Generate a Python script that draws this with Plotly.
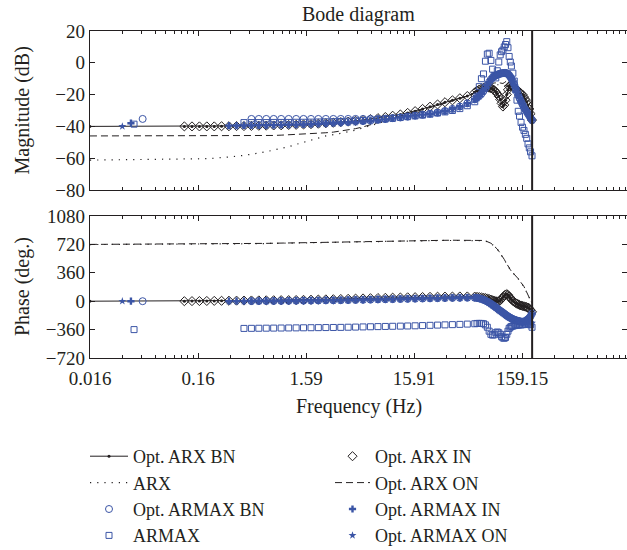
import plotly.graph_objects as go
import math

# ---------------- data ----------------
# shared frequency grid (Hz) of the identified responses
freq_hz = [0.119, 0.14, 0.164, 0.192, 0.225, 0.263, 0.308, 0.362, 0.424, 0.497,
           0.582, 0.682, 0.799, 0.937, 1.1, 1.29, 1.51, 1.77, 2.07, 2.43,
           2.85, 3.34, 3.91, 4.58, 5.37, 6.29, 7.38, 8.64, 10.1, 11.9,
           13.9, 16.3, 19.1, 22.4, 26.3, 30.8, 36.1, 42.3, 49.6, 58.1,
           61, 64, 67, 70, 73, 76, 79, 82, 85, 88,
           91, 94, 97, 100, 103, 106, 109, 112, 115, 118,
           121, 124, 127, 131, 135, 139, 143, 147, 151, 156,
           161, 166, 171, 176, 181, 186, 191, 197]
line_start_hz = 0.0159          # continuous models start at the left edge
nyquist_hz = 197.5              # vertical marker line

# Opt. ARX IN (diamonds)
arx_in_mag = [-40.0, -40.0, -40.0, -40.0, -40.0, -39.9, -39.9, -39.8, -39.8, -39.7,
              -39.6, -39.5, -39.4, -39.3, -39.1, -39.0, -38.8, -38.6, -38.3, -38.0,
              -37.7, -37.3, -37.0, -36.5, -36.0, -35.4, -34.8, -34.1, -33.3, -32.5,
              -31.5, -30.4, -29.0, -27.6, -26.2, -24.8, -23.6, -22.3, -20.9, -18.6,
              -17.5, -16.8, -16.2, -15.8, -15.5, -15.5, -15.7, -16.0, -16.5, -17.2,
              -18.2, -19.5, -21.0, -23.0, -25.5, -27.5, -26.5, -23.5, -20.0, -17.0,
              -14.8, -14.0, -14.3, -15.0, -15.8, -16.5, -17.0, -17.8, -18.5, -19.3,
              -20.0, -21.5, -23.0, -24.5, -26.5, -29.0, -32.0, -36.0]
arx_in_ph = [0, 1, 2, 3, 4, 5, 6, 7, 8, 9,
             10, 11, 12, 13, 14, 15, 17, 19, 21, 23,
             25, 28, 30, 33, 35, 38, 40, 43, 45, 47,
             49, 51, 53, 55, 57, 58, 59, 60, 60, 58,
             55, 52, 48, 44, 40, 35, 28, 20, 12, 5,
             0, -3, 0, 10, 30, 50, 70, 85, 90, 80,
             60, 40, 22, 5, -10, -22, -32, -40, -48, -55,
             -60, -65, -70, -75, -82, -92, -110, -135]

# Opt. ARX BN (solid line, starts at line_start_hz)
arx_bn_mag = [-40.0] + arx_in_mag
arx_bn_ph = [0] + arx_in_ph

# Opt. ARX ON (dashed line, starts at line_start_hz)
arx_on_mag = [-46.0,
              -46.0, -46.0, -46.0, -46.0, -46.0, -46.0, -46.0, -46.0, -46.0, -46.0,
              -45.9, -45.8, -45.7, -45.5, -45.3, -45.1, -44.9, -44.6, -44.3, -44.0,
              -43.6, -43.0, -42.3, -41.4, -40.3, -39.0, -37.7, -36.4, -35.0, -33.6,
              -32.3, -31.0, -29.6, -28.2, -26.8, -25.4, -24.0, -22.5, -21.0, -19.0,
              -18.5, -17.8, -17.0, -16.2, -15.5, -14.8, -14.0, -13.5, -13.0, -12.7,
              -12.5, -12.4, -12.5, -12.7, -13.0, -13.0, -12.5, -11.8, -11.0, -10.8,
              -10.8, -11.0, -11.5, -12.3, -13.2, -14.3, -15.5, -16.8, -18.0, -19.5,
              -21.0, -22.8, -24.5, -26.5, -28.5, -30.5, -33.0, -35.5]
arx_on_ph = [720,
             722, 723, 724, 725, 726, 727, 728, 729, 729, 730,
             731, 733, 735, 737, 739, 741, 743, 745, 747, 749,
             751, 753, 755, 757, 759, 761, 762, 763, 765, 766,
             767, 768, 769, 770, 771, 772, 773, 774, 775, 776,
             776, 775, 773, 770, 765, 758, 748, 735, 718, 700,
             680, 660, 635, 610, 585, 560, 530, 500, 470, 445,
             420, 400, 380, 362, 345, 325, 305, 285, 262, 240,
             215, 185, 150, 110, 70, 35, 10, -20]

# ARX (dotted line, starts at line_start_hz)
arx_mag = [-61.2,
           -60.8, -60.7, -60.5, -60.3, -60.0, -59.7, -59.3, -58.8, -58.2, -57.6,
           -56.8, -55.9, -55.0, -54.0, -52.8, -51.3, -49.9, -48.6, -47.2, -46.0,
           -45.2, -44.4, -43.4, -42.3, -41.0, -39.6, -38.1, -36.6, -35.1, -33.6,
           -32.2, -30.8, -29.4, -28.0, -26.6, -25.2, -23.8, -22.4, -21.0, -19.5,
           -19.0, -18.4, -17.8, -17.2, -16.6, -16.0, -15.5, -15.0, -14.6, -14.3,
           -14.0, -13.8, -13.7, -13.7, -13.8, -14.0, -14.3, -14.7, -15.2, -15.8,
           -16.5, -17.3, -18.2, -19.2, -20.3, -21.5, -22.8, -24.2, -25.6, -27.0,
           -28.5, -30.0, -31.5, -33.0, -34.5, -36.0, -37.5, -39.0]
arx_ph = [718,
          719, 720, 721, 722, 723, 724, 725, 726, 727, 728,
          729, 731, 733, 735, 737, 739, 741, 743, 745, 747,
          749, 751, 753, 755, 757, 759, 760, 761, 763, 764,
          765, 766, 767, 768, 769, 770, 771, 772, 773, 774,
          774, 773, 771, 768, 763, 756, 746, 733, 716, 698,
          678, 658, 633, 608, 583, 558, 528, 498, 468, 443,
          418, 398, 378, 360, 343, 323, 303, 283, 260, 238,
          213, 183, 148, 108, 68, 33, 8, -22]

# Opt. ARMAX IN (first point isolated, then grid from 0.308 Hz)
armax_in_first = [0.0381, -38.0, 0]
armax_in_mag = [-39.5, -39.5, -39.4, -39.4, -39.3, -39.3, -39.2, -39.1, -39.0, -38.9,
                -38.8, -38.6, -38.4, -38.2, -38.0, -37.8, -37.5, -37.2, -36.9, -36.5,
                -36.1, -35.6, -35.0, -34.4, -33.8, -33.2, -32.6, -32.0, -31.3, -30.3,
                -29.0, -27.5, -25.5, -23.0,
                -22.0, -20.8, -19.5, -17.8, -16.0, -14.0, -12.2, -10.5, -9.3, -8.5,
                -7.9, -7.5, -7.1, -6.8, -6.6, -6.5, -6.4, -6.4, -6.6, -7.0,
                -7.8, -8.8, -10.0, -11.8, -13.8, -16.0, -18.2, -20.3, -22.3, -24.3,
                -26.2, -28.0, -29.5, -30.8, -32.0, -33.3, -34.7, -36.0]
armax_in_ph = [0, 1, 1, 2, 2, 3, 3, 4, 5, 6,
               7, 8, 9, 10, 11, 12, 14, 16, 18, 20,
               22, 24, 26, 28, 30, 32, 34, 36, 38, 40,
               42, 43, 44, 44,
               42, 35, 28, 18, 8, -5, -18, -32, -48, -62,
               -78, -92, -108, -120, -133, -145, -158, -170, -182, -192,
               -202, -210, -218, -226, -234, -240, -246, -250, -255, -258,
               -260, -258, -252, -240, -228, -212, -190, -155]

# Opt. ARMAX ON (stars)
armax_on_first = [0.0317, -40.0, 0]
armax_on_mag = [-39.8, -39.7, -39.7, -39.6, -39.6, -39.5, -39.4, -39.3, -39.2, -39.1,
                -39.0, -38.8, -38.6, -38.4, -38.2, -38.0, -37.7, -37.4, -37.1, -36.7,
                -36.3, -35.8, -35.2, -34.6, -34.0, -33.4, -32.8, -32.2, -31.5, -30.5,
                -29.2, -27.7, -25.7, -23.3,
                -22.3, -21.1, -19.8, -18.1, -16.3, -14.3, -12.5, -10.8, -9.6, -8.8,
                -8.2, -7.8, -7.4, -7.1, -6.9, -6.8, -6.7, -6.7, -6.9, -7.3,
                -8.1, -9.1, -10.3, -12.1, -14.1, -16.3, -18.5, -20.6, -22.6, -24.6,
                -26.5, -28.3, -29.8, -31.1, -32.3, -33.6, -35.0, -36.3]
armax_on_ph = [0, 0, 1, 1, 2, 2, 3, 3, 4, 5,
               6, 7, 8, 9, 10, 11, 13, 15, 17, 19,
               21, 23, 25, 27, 29, 31, 33, 35, 37, 39,
               41, 42, 43, 43,
               40, 33, 25, 15, 4, -9, -22, -37, -53, -68,
               -84, -98, -113, -126, -139, -151, -163, -175, -187, -197,
               -207, -215, -223, -231, -238, -244, -249, -253, -257, -260,
               -262, -264, -266, -268, -270, -272, -275, -278]

# Opt. ARMAX BN (circles)
armax_bn_first = [0.0489, -35.3, 0]
armax_bn_mag = [-35.3, -35.3, -35.3, -35.3, -35.3, -35.3, -35.3, -35.3, -35.3, -35.3,
                -35.3, -35.3, -35.3, -35.3, -35.3, -35.3, -35.3, -35.3, -35.1, -34.8,
                -34.4, -33.8, -33.2, -32.6, -32.0, -31.3, -30.3, -29.0, -27.5, -25.5,
                -23.0,
                -22.0, -20.8, -19.5, -17.8, -16.0, -14.0, -12.2, -10.5, -9.3, -8.5,
                -7.9, -7.5, -7.1, -6.8, -6.6, -6.5, -6.4, -6.4, -6.6, -7.0,
                -7.8, -8.8, -10.0, -11.8, -13.8, -16.0, -18.2, -20.3, -22.3, -24.3,
                -26.2, -28.0, -29.5, -30.8, -32.0, -33.3, -34.7, -36.0]
armax_bn_ph = [2, 2, 3, 3, 4, 5, 6, 7, 8, 9,
               10, 11, 12, 14, 16, 18, 20, 22, 24, 26,
               28, 30, 32, 34, 36, 38, 40, 42, 43, 44,
               44,
               42, 35, 28, 18, 8, -5, -18, -32, -48, -62,
               -78, -92, -108, -120, -133, -145, -158, -170, -182, -192,
               -202, -210, -218, -226, -234, -240, -246, -250, -255, -258,
               -260, -258, -252, -240, -228, -212, -190, -155]

# ARMAX (squares)
armax_first = [0.0407, -38.6, -360]
armax_mag = [-37.6, -37.6, -37.6, -37.6, -37.5, -37.5, -37.5, -37.4, -37.4, -37.3,
             -37.2, -37.1, -37.0, -36.9, -36.7, -36.5, -36.3, -36.0, -35.7, -35.3,
             -34.9, -34.4, -33.9, -33.4, -32.9, -32.3, -31.6, -30.9, -30.0, -28.8,
             -27.0, -24.5,
             -21.0, -15.0, -10.0, -7.0, 1.0, 5.5, 6.0, 1.5, -4.0, -8.0,
             -9.5, -5.0, 0.5, 5.0, 7.0, 8.0, 10.0, 11.5, 13.3, 9.5,
             4.0, 0.5, -2.0, -6.5, -11.5, -17.0, -23.5, -30.5, -33.5, -37.5,
             -40.5, -42.5, -45.0, -47.5, -51.0, -53.5, -56.0, -58.5]
armax_ph = [-345, -344, -343, -342, -341, -340, -339, -338, -337, -336,
            -335, -334, -333, -332, -330, -328, -326, -324, -322, -320,
            -318, -316, -314, -312, -309, -306, -303, -300, -297, -294,
            -290, -286,
            -282, -281, -282, -285, -300, -330, -380, -420, -430, -425,
            -400, -390, -400, -420, -450, -465, -470, -460, -420, -380,
            -345, -330, -320, -315, -310, -305, -303, -302, -300, -300,
            -298, -296, -295, -292, -290, -290, -300, -330]

mag_ticks = [-80, -60, -40, -20, 0, 20]
phase_ticks = [-720, -360, 0, 360, 720, 1080]
freq_tick_vals = [0.015915, 0.15915, 1.5915, 15.915, 159.15]
freq_tick_text = ["0.016", "0.16", "1.59", "15.91", "159.15"]

# ---------------- style ----------------
BLACK = "#231f20"
BLUE = "#3b55a6"
FONT = "Liberation Serif"
W, H = 627, 550

fig = go.Figure()


def tail(values):
    return freq_hz[len(freq_hz) - len(values):]


def add(name, legend, rank, x, mag, ph, **kw):
    fig.add_trace(go.Scatter(x=x, y=mag, name=name, legend=legend, legendrank=rank,
                             legendgroup=name, showlegend=True,
                             xaxis="x", yaxis="y", **kw))
    fig.add_trace(go.Scatter(x=x, y=ph, name=name, legend=legend, legendgroup=name,
                             showlegend=False, xaxis="x2", yaxis="y2", **kw))


line_freq = [line_start_hz] + freq_hz

add("ARX", "legend", 2, line_freq, arx_mag, arx_ph, mode="lines",
    line=dict(color=BLACK, width=1.2, dash="1.2px,6px"))
add("Opt. ARX ON", "legend2", 2, line_freq, arx_on_mag, arx_on_ph, mode="lines",
    line=dict(color=BLACK, width=1, dash="7px,4px"))
add("Opt. ARX BN", "legend", 1, line_freq, arx_bn_mag, arx_bn_ph, mode="lines+markers",
    line=dict(color=BLACK, width=1), marker=dict(color=BLACK, size=3))
add("Opt. ARX IN", "legend2", 1, tail(arx_in_mag), arx_in_mag, arx_in_ph, mode="markers",
    marker=dict(symbol="diamond-open", color=BLACK, size=7, line=dict(width=1, color=BLACK)))
add("Opt. ARMAX BN", "legend", 3,
    [armax_bn_first[0]] + tail(armax_bn_mag), [armax_bn_first[1]] + armax_bn_mag,
    [armax_bn_first[2]] + armax_bn_ph, mode="markers",
    marker=dict(symbol="circle-open", color=BLUE, size=7, line=dict(width=1, color=BLUE)))
add("ARMAX", "legend", 4,
    [armax_first[0]] + tail(armax_mag), [armax_first[1]] + armax_mag,
    [armax_first[2]] + armax_ph, mode="markers",
    marker=dict(symbol="square-open", color=BLUE, size=6, line=dict(width=1, color=BLUE)))
add("Opt. ARMAX IN", "legend2", 3,
    [armax_in_first[0]] + tail(armax_in_mag), [armax_in_first[1]] + armax_in_mag,
    [armax_in_first[2]] + armax_in_ph, mode="markers",
    marker=dict(symbol="cross", color=BLUE, size=6))
add("Opt. ARMAX ON", "legend2", 4,
    [armax_on_first[0]] + tail(armax_on_mag), [armax_on_first[1]] + armax_on_mag,
    [armax_on_first[2]] + armax_on_ph, mode="markers",
    marker=dict(symbol="star", color=BLUE, size=6))

x_left = math.log10(freq_tick_vals[0])
x_range = [x_left, x_left + (W - 90) / 108.0]
minor_vals = [k * v for v in freq_tick_vals + [1591.5] for k in range(2, 10)]

axis_common = dict(showline=True, linecolor=BLACK, linewidth=1.3, ticks="inside",
                   tickcolor=BLACK, tickwidth=1, ticklen=5, showgrid=False,
                   zeroline=False, automargin=False,
                   tickfont=dict(family=FONT, size=19, color=BLACK))
xaxis_common = dict(axis_common, type="log", range=x_range, domain=[90 / W, 1.0],
                    tickmode="array", tickvals=freq_tick_vals, ticktext=freq_tick_text,
                    mirror="allticks",
                    minor=dict(tickmode="array", tickvals=minor_vals, ticks="inside",
                               ticklen=3, tickcolor=BLACK, tickwidth=1, showgrid=False))

legend_font = dict(family=FONT, size=18, color=BLACK)
fig.update_layout(
    width=W, height=H, autosize=False,
    margin=dict(l=0, r=0, t=0, b=0, autoexpand=False),
    paper_bgcolor="white", plot_bgcolor="white",
    font=dict(family=FONT, size=19, color=BLACK),
    xaxis=dict(xaxis_common, anchor="y", showticklabels=False),
    yaxis=dict(axis_common, anchor="x", domain=[1 - 190 / H, 1 - 31 / H],
               range=[-80, 20], tickmode="array", tickvals=mag_ticks, mirror="ticks"),
    xaxis2=dict(xaxis_common, anchor="y2", showticklabels=True, ticklabelstandoff=3),
    yaxis2=dict(axis_common, anchor="x2", domain=[1 - 358 / H, 1 - 216 / H],
                range=[-720, 1080], tickmode="array", tickvals=phase_ticks, mirror="ticks"),
    legend=dict(x=85 / W, y=1 - 438 / H, xanchor="left", yanchor="top",
                orientation="v", itemwidth=38, tracegroupgap=0,
                bgcolor="rgba(0,0,0,0)", font=legend_font),
    legend2=dict(x=330 / W, y=1 - 438 / H, xanchor="left", yanchor="top",
                 orientation="v", itemwidth=35, tracegroupgap=0,
                 bgcolor="rgba(0,0,0,0)", font=legend_font),
    showlegend=True,
)

for xr, yr in [("x", "y domain"), ("x2", "y2 domain")]:
    fig.add_shape(type="line", xref=xr, yref=yr, x0=nyquist_hz, x1=nyquist_hz,
                  y0=0, y1=1, line=dict(color=BLACK, width=2))

cx = (90 + W) / 2 / W
title_font = dict(family=FONT, size=20, color=BLACK)
for text, x, y, ang in [("Bode diagram", cx, 15, 0),
                        ("Frequency (Hz)", cx, 406, 0),
                        ("Magnitude (dB)", 22 / W, 110.5, -90),
                        ("Phase (deg.)", 22 / W, 287, -90)]:
    fig.add_annotation(text=text, x=x, y=1 - y / H, xref="paper", yref="paper",
                       xanchor="center", yanchor="middle", textangle=ang,
                       showarrow=False, font=title_font)

fig.write_html("out.html")
